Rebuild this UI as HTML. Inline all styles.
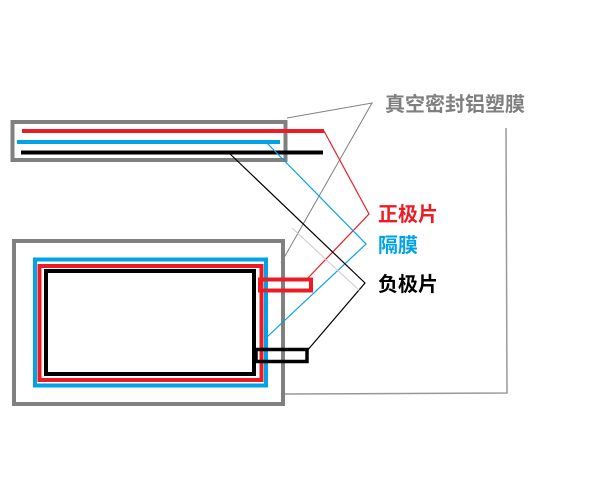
<!DOCTYPE html>
<html><head><meta charset="utf-8"><style>
html,body{margin:0;padding:0;background:#fff;}
svg{display:block;}
text{font-family:"Liberation Sans","Noto Sans CJK SC",sans-serif;font-size:20px;font-weight:bold;}
</style></head><body>
<svg width="600" height="500" viewBox="0 0 600 500" xmlns="http://www.w3.org/2000/svg">
<rect x="12.5" y="122" width="273" height="38" fill="none" stroke="#808080" stroke-width="4"/>
<line x1="22" y1="131" x2="324" y2="131" stroke="#ed1c24" stroke-width="4"/>
<line x1="17" y1="142" x2="280" y2="142" stroke="#00a2e8" stroke-width="4"/>
<line x1="21" y1="152.5" x2="323" y2="152.5" stroke="#000" stroke-width="4"/>
<rect x="14" y="241" width="269" height="163" fill="none" stroke="#808080" stroke-width="4"/>
<rect x="35" y="259.5" width="231" height="126" fill="none" stroke="#00a2e8" stroke-width="4"/>
<rect x="39.5" y="266" width="222" height="114" fill="none" stroke="#ed1c24" stroke-width="4"/>
<rect x="46" y="271" width="208" height="103" fill="none" stroke="#000" stroke-width="4"/>
<rect x="260" y="279.5" width="51" height="11" fill="none" stroke="#ed1c24" stroke-width="4"/>
<rect x="256" y="349.5" width="51" height="12" fill="none" stroke="#000" stroke-width="3.5"/>
<polyline points="287,118 372,103 281,263" fill="none" stroke="#808080" stroke-width="1"/>
<polyline points="285,394 507,393 506,128" fill="none" stroke="#999" stroke-width="1.5"/>
<polyline points="324,131 369,214 307,279" fill="none" stroke="#ed1c24" stroke-width="1.2"/>
<polyline points="265,141 366,244 267,337" fill="none" stroke="#00a2e8" stroke-width="1.2"/>
<polyline points="228,152 365,283 306,352" fill="none" stroke="#000" stroke-width="1.2"/>
<line x1="292" y1="228" x2="360" y2="291" stroke="#ccc" stroke-width="1"/>
<text x="385" y="111" fill="#7f7f7f">真空密封铝塑膜</text>
<text x="378" y="221" fill="#ed1c24" font-size="21">正极片</text>
<text x="378" y="252" fill="#00a2e8" font-size="21">隔膜</text>
<text x="378" y="291" fill="#000" font-size="21">负极片</text>
</svg>
</body></html>
